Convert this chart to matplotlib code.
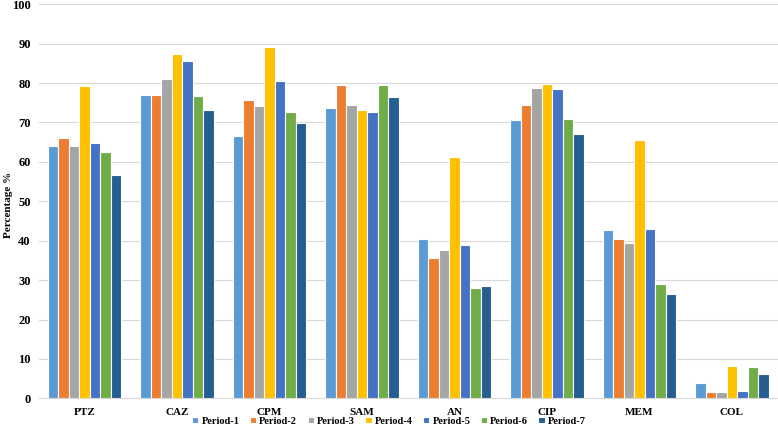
import matplotlib.pyplot as plt
import numpy as np

drugs = ["PTZ", "CAZ", "CPM", "SAM", "AN", "CIP", "MEM", "COL"]
periods = ["Period-1", "Period-2", "Period-3", "Period-4", "Period-5", "Period-6", "Period-7"]

period_1 = [64.0, 76.9, 66.5, 73.7, 40.4, 70.6, 42.7, 3.8]
period_2 = [66.1, 76.9, 75.7, 79.6, 35.6, 74.4, 40.4, 1.7]
period_3 = [64.0, 81.1, 74.3, 74.4, 37.6, 78.8, 39.4, 1.5]
period_4 = [79.2, 87.4, 89.1, 73.2, 61.3, 79.8, 65.5, 8.3]
period_5 = [64.8, 85.5, 80.6, 72.6, 38.8, 78.6, 42.9, 1.9]
period_6 = [62.5, 76.6, 72.6, 79.5, 28.1, 71.0, 28.9, 7.9]
period_7 = [56.6, 73.2, 69.8, 76.4, 28.5, 67.2, 26.4, 6.2]

series = [period_1, period_2, period_3, period_4, period_5, period_6, period_7]
colors = ["#5B9BD5", "#ED7D31", "#A5A5A5", "#FFC000", "#4472C4", "#70AD47", "#255E91"]

plt.rcParams['font.family'] = ['Liberation Serif', 'DejaVu Serif']
plt.rcParams['font.weight'] = 'bold'

fig = plt.figure(figsize=(7.78, 4.33), dpi=100)
ax = fig.add_axes([38.5 / 778, 34.7 / 433, 739.5 / 778, 394 / 433])

x = np.arange(len(drugs))
w = 0.1135
for i, vals in enumerate(series):
    ax.bar(x + (i - 3) * w, vals, width=w, color=colors[i], edgecolor="white",
           linewidth=0.8, label=periods[i], zorder=3)

ax.set_xlim(-0.5, len(drugs) - 0.5)
ax.set_ylim(0, 100)
ax.set_yticks(range(0, 101, 10))
ax.set_xticks(x)
ax.set_xticklabels(drugs, fontsize=8, fontweight="bold")
ax.tick_params(axis="y", labelsize=9, length=0, pad=5.5)
ax.tick_params(axis="x", length=0, pad=7)
for lab in ax.get_yticklabels():
    lab.set_fontweight("bold")
ax.grid(axis="y", color="#D9D9D9", linewidth=0.8, zorder=0)
for s in ["top", "right", "left"]:
    ax.spines[s].set_visible(False)
ax.spines["bottom"].set_color("#D9D9D9")
ax.spines["bottom"].set_linewidth(0.8)

ax.set_ylabel("Percentage %", fontsize=8, fontweight="bold")
ax.yaxis.set_label_coords(-0.035, 0.49)

fig.legend(loc="center", bbox_to_anchor=(389 / 778, 1 - 421 / 433), ncol=7, frameon=False,
           handlelength=0.6, handleheight=0.6, handletextpad=0.3,
           columnspacing=1.0, prop={"weight": "bold", "size": 7.5})

fig.savefig("out.png", dpi=100)
